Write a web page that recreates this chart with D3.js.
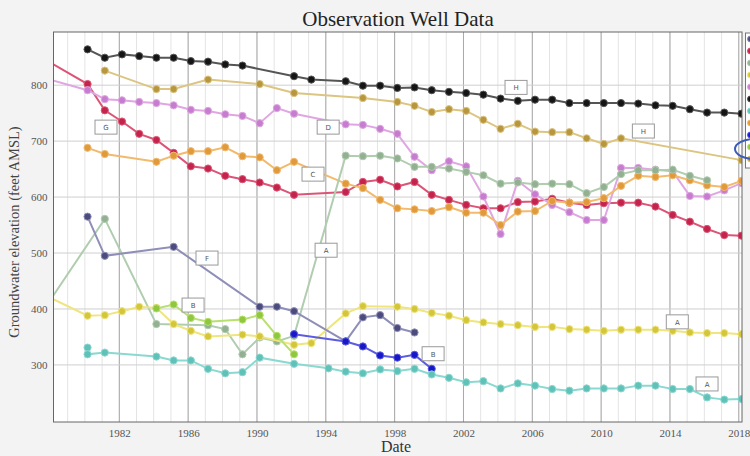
<!DOCTYPE html>
<html><head><meta charset="utf-8">
<script src="https://cdn.jsdelivr.net/npm/d3@7"></script>
<style>
html,body{margin:0;padding:0;background:#f3f3f3;}
svg{display:block;}
</style></head>
<body>
<svg id="chart" width="750" height="456"></svg>
<script>
// ---------- data ----------
const title = "Observation Well Data";
const xTitle = "Date";
const yTitle = "Groundwater elevation (feet AMSL)";
const xTickYears = [1982,1986,1990,1994,1998,2002,2006,2010,2014,2018];
const yTickValues = [300,400,500,600,700,800];

const yearsH1 = [1980,1981,1982,1983,1984,1985,1986,1987,1988,1989,1992,1993,1995,1996,1997,1998,1999,2000,2001,2002,2003,2004,2005,2006,2007,2008,2009,2010,2011,2012,2013,2014,2015,2016,2017,2018];
const valuesH1 = [864,849,855,852,849,849,843,842,837,835,816,810,807,799,799,795,796,791,788,786,783,776,772,774,774,768,768,768,768,767,764,763,757,751,751,749];

const yearsH2 = [1981,1984,1985,1987,1990,1992,1996,1998,1999,2000,2001,2002,2003,2004,2005,2006,2007,2008,2009,2010,2011,2018];
const valuesH2 = [826,793,793,810,802,786,777,770,763,752,757,754,738,722,731,717,716,716,705,695,705,666];

const yearsG = [1977,1980,1981,1982,1983,1984,1985,1986,1987,1988,1989,1990,1991,1992,1995,1996,1997,1998,1999,2000,2001,2002,2003,2004,2005,2006,2007,2008,2009,2010,2011,2012,2013,2014,2015,2016,2017,2018];
const valuesG = [855,802,755,735,713,702,679,655,651,638,632,626,617,604,609,627,631,619,627,604,595,586,580,580,591,592,597,590,586,589,590,590,583,568,556,543,532,531];

const yearsD = [1977,1980,1981,1982,1983,1984,1985,1986,1987,1988,1989,1990,1991,1992,1995,1996,1997,1998,1999,2000,2001,2002,2003,2004,2005,2006,2007,2008,2009,2010,2011,2012,2013,2014,2015,2016,2017,2018];
const valuesD = [817,791,775,773,770,768,764,756,754,748,745,732,759,749,730,729,722,713,672,648,664,655,601,534,629,605,586,573,559,559,652,652,649,646,602,601,612,625];

const yearsC = [1980,1981,1984,1985,1986,1987,1988,1989,1990,1991,1992,1995,1996,1997,1998,1999,2000,2001,2002,2003,2004,2005,2006,2007,2008,2009,2010,2011,2012,2013,2014,2015,2016,2017,2018];
const valuesC = [688,677,663,674,682,682,689,673,671,648,663,624,616,595,580,578,575,582,572,572,550,574,575,593,590,591,598,620,638,636,639,630,621,618,629];

const yearsA1 = [1977,1981,1984,1987,1988,1989,1990,1991,1992,1995,1996,1997,1998,1999,2000,2001,2002,2003,2004,2005,2006,2007,2008,2009,2010,2011,2012,2013,2014,2015,2016];
const valuesA1 = [378,561,373,371,364,319,349,342,352,674,673,674,669,654,654,651,645,639,624,626,623,624,623,607,618,641,648,648,649,638,630];

const yearsA2 = [1977,1980,1981,1982,1983,1984,1985,1986,1987,1989,1990,1992,1993,1995,1996,1998,1999,2000,2001,2002,2003,2004,2005,2006,2007,2008,2009,2010,2011,2012,2013,2014,2015,2016,2017,2018];
const valuesA2 = [432,388,389,396,404,402,373,361,351,354,351,336,339,392,405,404,400,393,388,380,376,373,371,368,368,364,363,361,363,363,363,361,358,357,357,355];

const yearsB1 = [1984,1985,1986,1987,1989,1990,1991,1992];
const valuesB1 = [401,408,384,377,381,389,352,319];

const yearsF = [1980,1981,1985,1990,1991,1992,1995,1996,1997,1998,1999];
const valuesF = [565,495,511,404,404,396,342,385,389,366,358];

const yearsB2 = [1992,1995,1996,1997,1998,1999,2000];
const valuesB2 = [355,342,333,317,313,318,293];

const yearsA3 = [1980,1980,1981,1984,1985,1986,1987,1988,1989,1990,1992,1994,1995,1996,1997,1998,1999,2000,2001,2002,2003,2004,2005,2006,2007,2008,2009,2010,2011,2012,2013,2014,2015,2016,2017,2018];
const valuesA3 = [331,319,322,315,308,308,293,285,287,313,302,294,288,285,292,289,293,283,277,269,271,258,267,263,257,254,258,258,258,263,263,257,257,242,238,239];

const seriesNames  = ["H","H","G","D","C","A","A","B","F","B","A"];
const seriesYears  = [yearsH1,yearsH2,yearsG,yearsD,yearsC,yearsA1,yearsA2,yearsB1,yearsF,yearsB2,yearsA3];
const seriesValues = [valuesH1,valuesH2,valuesG,valuesD,valuesC,valuesA1,valuesA2,valuesB1,valuesF,valuesB2,valuesA3];
const dotColors  = ["#151515","#b8963e","#c4234c","#c77dcf","#e09a3c","#93b093","#d4c63a","#8fc73e","#4b4b7e","#1818c8","#5fc1b8"];
const lineColors = ["#555555","#dcc581","#dc5576","#e0a6e2","#f2ba6c","#b0cdb0","#efe57c","#b8e06e","#8e8eb8","#5c5ce2","#8ad9d1"];

// label anchor points (year, value) for the boxed tags
const labelSeries = [0,1,2,3,4,5,8,7,9,6,10];
const labelYears  = [2004.9,2012.3,1981.07,1993.98,1993.1,1993.86,1986.94,1986.13,2000.08,2014.27,2016.0];
const labelValues = [796,718,725,725,641,505,491,407,320,377,266];

// legend order (series index)
const legendOrder = [8,2,5,6,3,0,10,4,9,7,1];

// ---------- chart ----------
const W = 750, H = 456;
const m = {left:53.5, right:8, top:32, bottom:34};
const svg = d3.select("#chart");
svg.append("rect").attr("width",W).attr("height",H).attr("fill","#f3f3f3");

function toDate(yr){ return new Date(Math.floor(yr), 1, 27).getTime() + (yr-Math.floor(yr))*365.25*864e5; }
const x = d3.scaleTime()
  .domain([new Date(1978,2,6), new Date(2018,2,10)])
  .range([m.left, W-m.right]);
const y = d3.scaleLinear().domain([198,895]).range([H-m.bottom, m.top]);

const px0 = x.range()[0], px1 = x.range()[1], py0 = y.range()[1], py1 = y.range()[0];

svg.append("rect").attr("x",px0).attr("y",py0).attr("width",px1-px0).attr("height",py1-py0).attr("fill","#ffffff");

svg.append("defs").append("clipPath").attr("id","clip")
  .append("rect").attr("x",px0).attr("y",py0).attr("width",px1-px0).attr("height",py1-py0);

// grid
const minorYears = d3.range(1979, 2019).map(v=>new Date(v,0,1));
const g = svg.append("g");
g.selectAll("line.minor").data(minorYears).join("line")
  .attr("x1",d=>x(d)).attr("x2",d=>x(d)).attr("y1",py0).attr("y2",py1)
  .attr("stroke","#e4e4e4").attr("stroke-width",1);
g.selectAll("line.major").data(xTickYears.map(v=>new Date(v,0,1))).join("line")
  .attr("x1",d=>x(d)).attr("x2",d=>x(d)).attr("y1",py0).attr("y2",py1)
  .attr("stroke","#a8a8a8").attr("stroke-width",1);
g.selectAll("line.h").data(yTickValues).join("line")
  .attr("x1",px0).attr("x2",px1).attr("y1",d=>y(d)).attr("y2",d=>y(d))
  .attr("stroke","#cfcfcf").attr("stroke-width",1);

// axes
const xAxis = d3.axisBottom(x).tickValues(xTickYears.map(v=>new Date(v,0,1))).tickFormat(d3.timeFormat("%Y")).tickSize(0).tickPadding(7);
const ax = svg.append("g").attr("transform",`translate(0,${py1})`).call(xAxis);
const yAxis = d3.axisLeft(y).tickValues(yTickValues).tickSize(0).tickPadding(6);
const ay = svg.append("g").attr("transform",`translate(${px0},0)`).call(yAxis);
[ax,ay].forEach(a=>{
  a.select(".domain").remove();
  a.selectAll("text").attr("font-family","Liberation Serif, serif").attr("font-size",11).attr("fill","#555");
});

// series
const plot = svg.append("g").attr("clip-path","url(#clip)");
const line = d3.line().x(d=>x(d.t)).y(d=>y(d.v));
seriesYears.forEach((ys,i)=>{
  const pts = ys.map((yr,j)=>({t:new Date(toDate(yr)), v:seriesValues[i][j]}));
  plot.append("path").datum(pts).attr("d",line)
    .attr("fill","none").attr("stroke",lineColors[i]).attr("stroke-width",2);
  plot.selectAll(null).data(pts).join("circle")
    .attr("cx",d=>x(d.t)).attr("cy",d=>y(d.v)).attr("r",3.6)
    .attr("fill",dotColors[i]).attr("stroke",lineColors[i]).attr("stroke-width",1);
});

// tags
labelSeries.forEach((si,k)=>{
  const cx = x(new Date(toDate(labelYears[k]))), cy = y(labelValues[k]);
  svg.append("rect").attr("x",cx-11).attr("y",cy-7).attr("width",22).attr("height",14)
    .attr("fill","#ffffff").attr("stroke","#999").attr("stroke-width",1);
  svg.append("text").attr("x",cx).attr("y",cy+3).attr("text-anchor","middle")
    .attr("font-family","DejaVu Sans, sans-serif").attr("font-size",7).attr("fill","#555")
    .text(seriesNames[si]);
});

// plot border
svg.append("rect").attr("x",px0).attr("y",py0).attr("width",px1-px0).attr("height",py1-py0)
  .attr("fill","none").attr("stroke","#666").attr("stroke-width",1);

// legend (only its left edge is inside the picture)
const lg = svg.append("g");
lg.append("rect").attr("x",745.5).attr("y",33).attr("width",30).attr("height",135)
  .attr("fill","#ffffff").attr("stroke","#777");
legendOrder.forEach((si,k)=>{
  lg.append("circle").attr("cx",750.5).attr("cy",39+k*12).attr("r",3)
    .attr("fill",dotColors[si]).attr("stroke",lineColors[si]);
});
// annotation ellipse
svg.append("ellipse").attr("cx",755).attr("cy",149).attr("rx",20).attr("ry",10)
  .attr("fill","none").attr("stroke","#3a5bb8").attr("stroke-width",2);

// titles
svg.append("text").attr("x",398).attr("y",26).attr("text-anchor","middle")
  .attr("font-family","Liberation Serif, serif").attr("font-size",21).attr("fill","#222").text(title);
svg.append("text").attr("x",396).attr("y",452).attr("text-anchor","middle")
  .attr("font-family","Liberation Serif, serif").attr("font-size",16).attr("fill","#333").text(xTitle);
svg.append("text").attr("transform","translate(19,232) rotate(-90)").attr("text-anchor","middle")
  .attr("font-family","Liberation Serif, serif").attr("font-size",14.5).attr("fill","#444").text(yTitle);
</script>
</body></html>
